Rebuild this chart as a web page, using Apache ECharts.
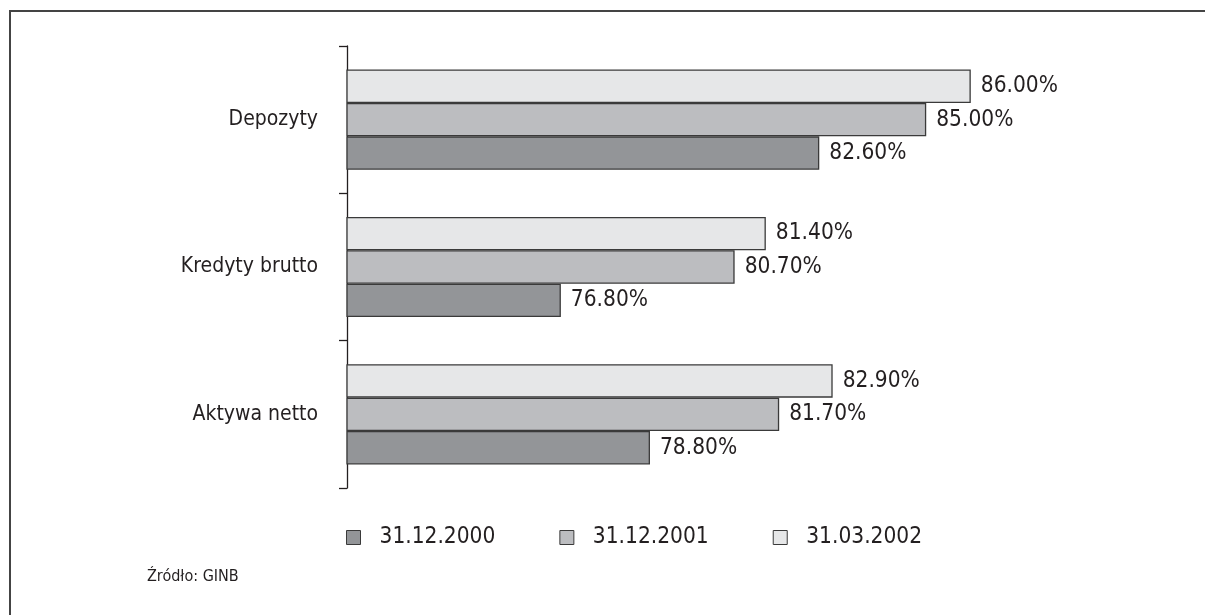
<!DOCTYPE html>
<html>
<head>
<meta charset="utf-8">
<script src="https://cdn.jsdelivr.net/npm/echarts@6/dist/echarts.min.js"></script>
<style>
  html, body { margin: 0; padding: 0; background: #fff; }
  #chart { width: 1205px; height: 615px; }
</style>
</head>
<body>
<div id="chart"></div>
<script>
// categories listed bottom-to-top (y axis runs upwards)
const categories = ['Aktywa netto', 'Kredyty brutto', 'Depozyty'];
const seriesNames = ['31.12.2000', '31.12.2001', '31.03.2002'];
const values2000 = [78.8, 76.8, 82.6];
const values2001 = [81.7, 80.7, 85.0];
const values2002 = [82.9, 81.4, 86.0];
const colors = ['#939598', '#bcbdc0', '#e6e7e8'];

const font = '"Liberation Sans Narrow", "DejaVu Sans Condensed", sans-serif';
const chart = echarts.init(document.getElementById('chart'));

const makeSeries = (name, data, color) => ({
  name,
  type: 'bar',
  data,
  barGap: '0%',
  barCategoryGap: '32%',
  itemStyle: { color, borderColor: '#3a3a3a', borderWidth: 1.3 },
  label: {
    show: true,
    position: 'right',
    distance: 10,
    formatter: (p) => p.value.toFixed(2) + '%',
    fontFamily: font,
    fontSize: 22.5,
    color: '#231f20',
  },
  emphasis: { disabled: true },
});

chart.setOption({
  animation: false,
  grid: { left: 347, top: 46, bottom: 127, right: 56, containLabel: false },
  xAxis: {
    type: 'value',
    min: 72,
    max: 90,
    show: false,
  },
  yAxis: {
    type: 'category',
    data: categories,
    axisLine: { show: true, lineStyle: { color: '#231f20', width: 1.3 } },
    axisTick: { show: true, length: 8, lineStyle: { color: '#231f20', width: 1.3 } },
    axisLabel: { margin: 29, fontFamily: font, fontSize: 21, color: '#231f20' },
  },
  legend: {
    left: 341,
    top: 521,
    itemWidth: 14,
    itemHeight: 14,
    itemGap: 64,
    icon: 'rect',
    textStyle: { fontFamily: font, fontSize: 22.5, color: '#231f20', padding: [0, 0, 0, 14] },
    itemStyle: { borderColor: '#3a3a3a', borderWidth: 1 },
    data: seriesNames,
  },
  graphic: [
    {
      type: 'polyline',
      shape: { points: [[10, 615], [10, 11], [1205, 11]] },
      style: { stroke: '#444', lineWidth: 2, fill: null },
    },
    {
      type: 'text',
      left: 147,
      top: 569,
      style: { text: 'Źródło: GINB', fontFamily: font, fontSize: 16, fill: '#231f20' },
    },
  ],
  // series listed top-to-bottom within each group
  series: [
    makeSeries(seriesNames[2], values2002, colors[2]),
    makeSeries(seriesNames[1], values2001, colors[1]),
    makeSeries(seriesNames[0], values2000, colors[0]),
  ],
});
</script>
</body>
</html>
